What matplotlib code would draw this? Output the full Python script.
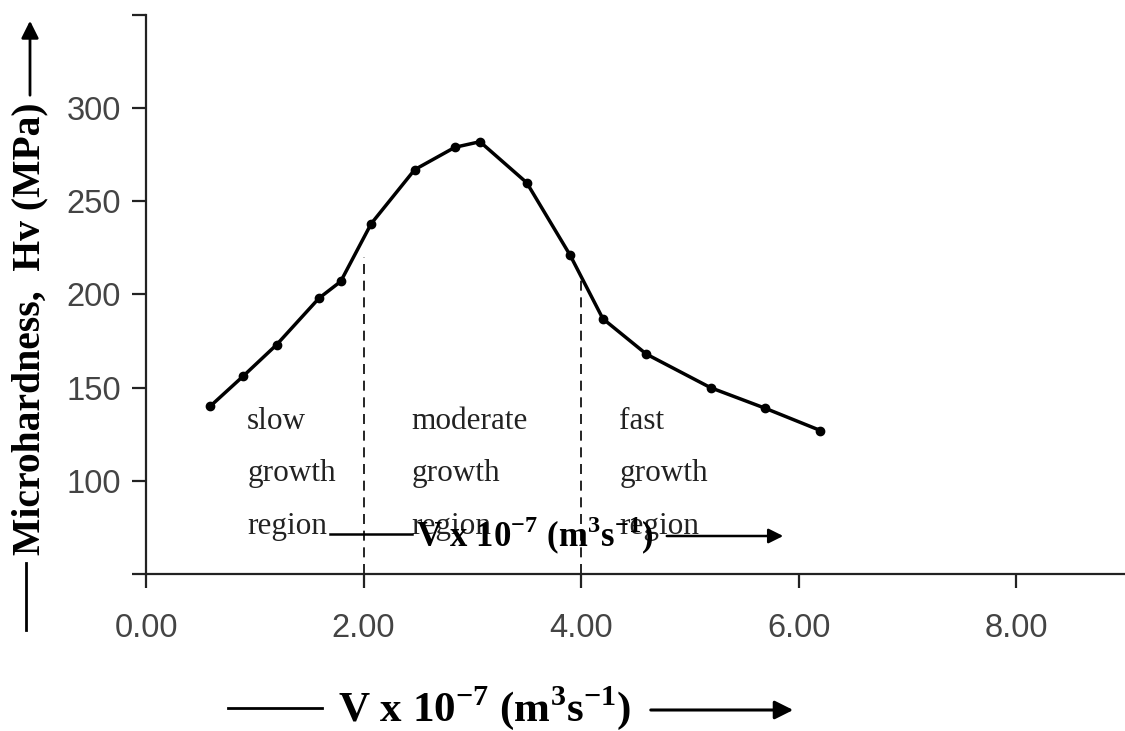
import matplotlib
matplotlib.use("Agg")
import matplotlib.pyplot as plt

# growth velocity (x 10^-7 m^3 s^-1) and microhardness (MPa)
velocity = [0.59, 0.89, 1.20, 1.59, 1.79, 2.07, 2.47, 2.84, 3.07,
            3.50, 3.90, 4.20, 4.60, 5.19, 5.69, 6.20]
hardness = [140, 156, 173, 198, 207, 238, 267, 279, 282,
            260, 221, 187, 168, 150, 139, 127]

# region boundaries and labels
boundary_x = [2.0, 4.0]
boundary_top = [220, 208]
region_x = [0.93, 2.44, 4.35]
region_words = [["slow", "growth", "region"],
                ["moderate", "growth", "region"],
                ["fast", "growth", "region"]]
word_y = [132, 104, 75.5]

xticks = [0, 2, 4, 6, 8]
xticklabels = ["0.00", "2.00", "4.00", "6.00", "8.00"]
yticks = [50, 100, 150, 200, 250, 300, 350]
yticklabels = ["", "100", "150", "200", "250", "300", ""]

plt.rcParams["mathtext.fontset"] = "custom"
plt.rcParams["mathtext.rm"] = "Liberation Serif:bold"
plt.rcParams["mathtext.bf"] = "Liberation Serif:bold"

W, H = 1125, 731
fig = plt.figure(figsize=(11.25, 7.31), dpi=100)
ax = fig.add_axes([146 / W, 1 - 574 / H, 979 / W, 559 / H])


def fx(px):
    return px / W


def fy(py):
    return 1 - py / H


ax.plot(velocity, hardness, color="black", lw=2.5, marker="o", ms=6)

for bx, bt in zip(boundary_x, boundary_top):
    ax.plot([bx, bx], [50, bt], color="black", lw=1.2, ls=(0, (6, 4)))

for rx, words in zip(region_x, region_words):
    for w, wy in zip(words, word_y):
        ax.text(rx, wy, w, fontsize=22.5, family="Liberation Serif",
                color="#222222", va="center", ha="left")

ax.set_xlim(0, 9)
ax.set_ylim(50, 350)
ax.set_xticks(xticks)
ax.set_xticklabels(xticklabels)
ax.set_yticks(yticks)
ax.set_yticklabels(yticklabels)
for s in ["top", "right"]:
    ax.spines[s].set_visible(False)
for s in ["left", "bottom"]:
    ax.spines[s].set_linewidth(1.6)
    ax.spines[s].set_color("#222222")
ax.tick_params(axis="both", direction="out", length=10, width=1.6,
               labelsize=23.5, labelcolor="#444444", color="#222222")
ax.tick_params(axis="x", pad=18)
ax.tick_params(axis="y", pad=8)
for lab in ax.get_xticklabels() + ax.get_yticklabels():
    lab.set_family("Liberation Sans")

label = r"V x 10$^{\mathbf{-7}}$ (m$^{\mathbf{3}}$s$^{\mathbf{-1}}$)"

# axis title repeated inside the plot
fig.text(fx(535), fy(547), label, fontsize=25, family="Liberation Serif",
         weight="bold", ha="center", va="baseline")
fig.add_artist(plt.Line2D([fx(330), fx(412)], [fy(534)] * 2,
                          color="black", lw=1.8))
ax.annotate("", xy=(fx(786), fy(536)), xytext=(fx(664), fy(536)),
            xycoords="figure fraction", textcoords="figure fraction",
            arrowprops=dict(arrowstyle="-|>", color="black", lw=1.8,
                            mutation_scale=22))

# bottom x label
fig.text(fx(485), fy(721), label, fontsize=31, family="Liberation Serif",
         weight="bold", ha="center", va="baseline")
fig.add_artist(plt.Line2D([fx(228), fx(322)], [fy(708)] * 2,
                          color="black", lw=2))
ax.annotate("", xy=(fx(796), fy(710)), xytext=(fx(648), fy(710)),
            xycoords="figure fraction", textcoords="figure fraction",
            arrowprops=dict(arrowstyle="-|>", color="black", lw=2.2,
                            mutation_scale=28))

# y label
fig.text(fx(30), fy(329), "Microhardness,  Hv (MPa)", fontsize=28.5,
         family="Liberation Serif", weight="bold", rotation=90,
         ha="center", va="center")
ax.annotate("", xy=(fx(30), fy(18)), xytext=(fx(30), fy(98)),
            xycoords="figure fraction", textcoords="figure fraction",
            arrowprops=dict(arrowstyle="-|>", color="black", lw=2,
                            mutation_scale=26))
fig.add_artist(plt.Line2D([fx(26)] * 2, [fy(563), fy(630)],
                          color="black", lw=2))

fig.savefig("out.png", dpi=100)
